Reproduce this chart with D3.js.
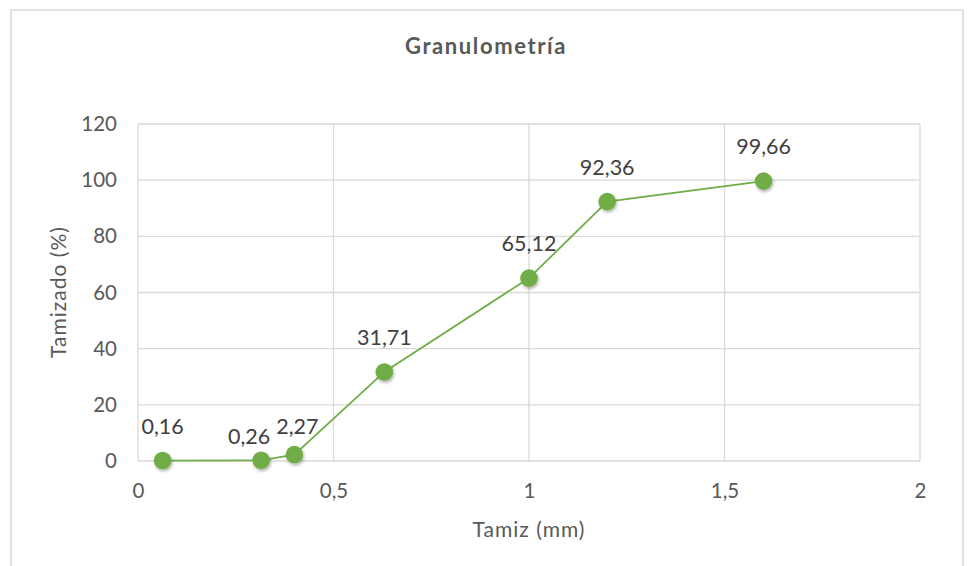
<!DOCTYPE html>
<html>
<head>
<meta charset="utf-8">
<script src="https://cdn.jsdelivr.net/npm/d3@7"></script>
<style>
  html, body { margin: 0; padding: 0; background: #fff; }
  svg { display: block; font-family: Lato, "Open Sans", sans-serif; }
</style>
</head>
<body>
<svg id="chart" width="968" height="566"></svg>
<script>
// ---- data ----
const sieveSizes = [0.063, 0.315, 0.4, 0.63, 1.0, 1.2, 1.6];
const passingPct = [0.16, 0.26, 2.27, 31.71, 65.12, 92.36, 99.66];
const xTicks = [0, 0.5, 1, 1.5, 2];
const yTicks = [0, 20, 40, 60, 80, 100, 120];
const chartTitle = "Granulometría";
const xTitle = "Tamiz (mm)";
const yTitle = "Tamizado (%)";

const fmt = v => String(v).replace(".", ",");

const svg = d3.select("#chart");

// outer frame
svg.append("rect").attr("x", 11).attr("y", 10).attr("width", 952).attr("height", 600)
  .attr("fill", "#fff").attr("stroke", "#d9d9d9").attr("stroke-width", 1.5);

const defs = svg.append("defs");
const f = defs.append("filter").attr("id", "shadow").attr("x", "-50%").attr("y", "-50%").attr("width", "200%").attr("height", "200%");
f.append("feDropShadow").attr("dx", 1).attr("dy", 2).attr("stdDeviation", 1.5)
  .attr("flood-color", "#000").attr("flood-opacity", 0.3);

const x = d3.scaleLinear().domain([0, 2]).range([138, 920]);
const y = d3.scaleLinear().domain([0, 120]).range([461, 124]);

// gridlines
const g = svg.append("g");
g.selectAll("line.h").data(yTicks).join("line")
  .attr("x1", x(0)).attr("x2", x(2)).attr("y1", d => y(d)).attr("y2", d => y(d))
  .attr("stroke", "#d9d9d9").attr("stroke-width", 1.3);
g.selectAll("line.v").data(xTicks).join("line")
  .attr("y1", y(0)).attr("y2", y(120)).attr("x1", d => x(d)).attr("x2", d => x(d))
  .attr("stroke", "#d9d9d9").attr("stroke-width", 1.3);

// axes (labels only)
const yAxis = d3.axisLeft(y).tickValues(yTicks).tickSize(0).tickPadding(21).tickFormat(fmt);
const ya = svg.append("g").attr("transform", `translate(${x(0)},0)`).call(yAxis);
ya.select(".domain").remove();
ya.selectAll("text").attr("fill", "#595959").style("font-size", "20.5px").style("font-family", "Lato, sans-serif");

const xAxis = d3.axisBottom(x).tickValues(xTicks).tickSize(0).tickPadding(22).tickFormat(fmt);
const xa = svg.append("g").attr("transform", `translate(0,${y(0)})`).call(xAxis);
xa.select(".domain").remove();
xa.selectAll("text").attr("fill", "#595959").style("font-size", "20.5px").style("font-family", "Lato, sans-serif");

// titles
svg.append("text").attr("x", 486).attr("y", 54).attr("text-anchor", "middle")
  .attr("fill", "#595959").style("font-size", "22px").style("font-weight", "bold")
  .style("letter-spacing", "1.6px").text(chartTitle);
svg.append("text").attr("x", 529).attr("y", 537).attr("text-anchor", "middle")
  .attr("fill", "#595959").style("font-size", "21px").style("letter-spacing", "1px").text(xTitle);
svg.append("text").attr("transform", "translate(66,292) rotate(-90)").attr("text-anchor", "middle")
  .attr("fill", "#595959").style("font-size", "21px").style("letter-spacing", "1px").text(yTitle);

const data = sieveSizes.map((s, i) => ({ s, p: passingPct[i], i }));

// line
svg.append("path").datum(data)
  .attr("d", d3.line().x(d => x(d.s)).y(d => y(d.p)))
  .attr("fill", "none").attr("stroke", "#70ad47").attr("stroke-width", 1.8);

// markers
svg.selectAll("circle.pt").data(data).join("circle")
  .attr("cx", d => x(d.s)).attr("cy", d => y(d.p)).attr("r", 8.8)
  .attr("fill", "#70ad47").attr("filter", "url(#shadow)");

// data labels
const labelShift = d => d.i === 1 ? -12 : (d.i === 2 ? 3 : 0);
const labelRise = d => d.i === 1 ? 16 : (d.i === 2 ? 21 : 27);
svg.selectAll("text.lbl").data(data).join("text")
  .attr("x", d => x(d.s) + labelShift(d))
  .attr("y", d => y(d.p) - labelRise(d))
  .attr("text-anchor", "middle").attr("fill", "#404040")
  .style("font-size", "21.5px").text(d => fmt(d.p));
</script>
</body>
</html>
